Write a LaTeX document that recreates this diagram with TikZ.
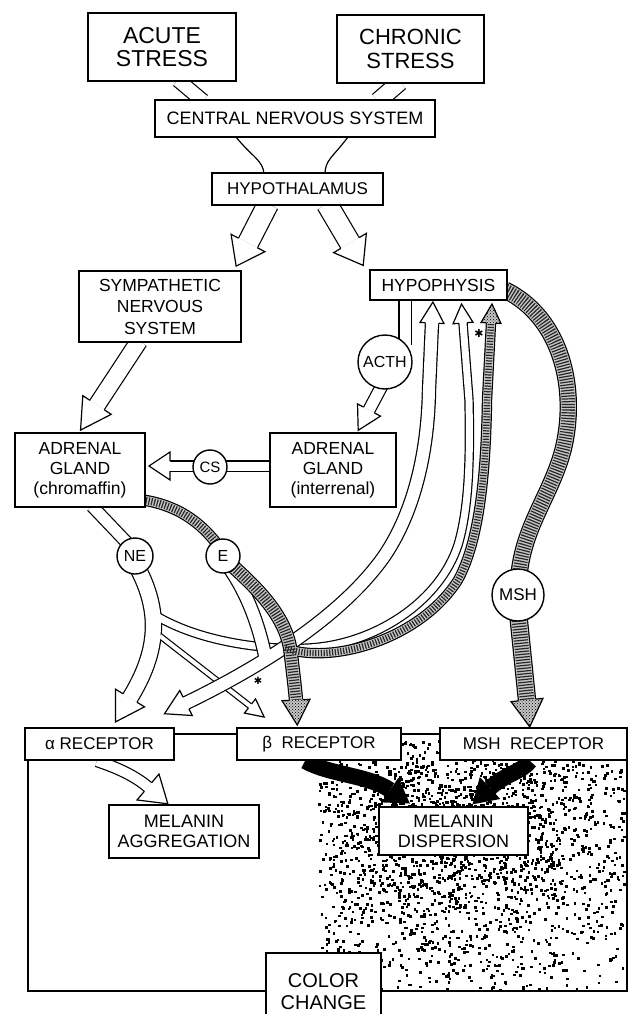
\documentclass[tikz,border=0pt]{standalone}
\usepackage{fontspec}
\setmainfont{Liberation Sans}
\newfontfamily\djv{DejaVu Sans}
\usetikzlibrary{decorations.markings,patterns}

\tikzset{
  bx/.style={draw, line width=1.5pt, fill=white, inner sep=0pt, align=center},
  cir/.style={draw, circle, line width=1.4pt, fill=white, inner sep=0pt},
  wtip/.style n args={3}{postaction={decorate,decoration={markings,mark=at position 1 with {\fill[white](0,#1)--(#3,0)--(0,-#1)--cycle;\draw[black,solid,line width=1.2pt,line join=miter](0,#2)--(0,#1)--(#3,0)--(0,-#1)--(0,-#2);}}}},
  htip/.style n args={3}{postaction={decorate,decoration={markings,mark=at position 1 with {\fill[gray!45](0,#1)--(#3,0)--(0,-#1)--cycle;\fill[pattern=crosshatch dots](0,#1)--(#3,0)--(0,-#1)--cycle;\draw[black,solid,line width=1.2pt,line join=miter](0,#2)--(0,#1)--(#3,0)--(0,-#1)--(0,-#2);}}}},
  btip/.style 2 args={postaction={decorate,decoration={markings,mark=at position 1 with {\fill[black](0,#1)--(#2,0)--(0,-#1)--cycle;}}}},
  hdash/.style={black!85, dash pattern=on 1.2pt off 1.6pt},
}

\newcommand{\wb}[3][]{\pgfmathsetmacro\wo{#2+2.4}\draw[line width=\wo pt]#3;\draw[white,line width=#2pt,#1]#3;}
\newcommand{\hb}[3][]{\pgfmathsetmacro\wo{#2+2.4}\pgfmathsetmacro\wi{#2-1.5}\draw[line width=\wo pt]#3;\draw[gray!45,line width=#2pt]#3;\draw[hdash,line width=\wi pt,#1]#3;}

\def\pNEa{(136,565) .. controls (162,612) and (158,652) .. (130,698)}
\def\pAtwo{(150,612) .. controls (200,645) and (280,652) .. (320,647) .. controls (380,640) and (440,600) .. (458,545) .. controls (470,505) and (470,450) .. (469,400) -- (463,323)}
\def\pThin{(160,636) -- (250,706)}
\def\pAone{(186,703) .. controls (250,672) and (340,620) .. (385,555) .. controls (415,510) and (428,450) .. (429,390) -- (432,323)}
\def\pEw{(228,566) .. controls (245,590) and (258,620) .. (266,660)}
\def\pEh{(228,562) .. controls (262,592) and (288,620) .. (291,655) .. controls (293,672) and (295,688) .. (296,700)}
\def\pAthree{(285,648) .. controls (330,665) and (420,640) .. (458,580) .. controls (480,540) and (486,470) .. (487,400) -- (491,323)}

\begin{document}
\begin{tikzpicture}[x=1pt,y=-1pt]
\useasboundingbox (0,0) rectangle (629,1014);
\clip (0,0) rectangle (629,1014);
\fill[white] (0,0) rectangle (629,1014);

% ---------- upper connectors ----------
\wb{13}{(178,80) -- (203,101)}
\wb{16}{(400,82) -- (378,101)}
\draw[line width=1.2pt] (236,137) .. controls (252,157) and (263,160) .. (264,174);
\draw[line width=1.2pt] (348,137) .. controls (333,157) and (325,160) .. (325,174);
\wb[wtip={19}{10.6}{26}]{20}{(268,204) -- (248,243)}
\wb[wtip={19}{10.6}{26}]{20}{(327,204) -- (350,243)}
\wb[wtip={17}{8.6}{30}]{16}{(139,341) -- (97,405)}
\wb{11}{(405,299) -- (405,345)}
\wb[wtip={13}{6.1}{23}]{11}{(386,378) -- (369,410)}
\wb[wtip={14}{5.1}{21}]{9}{(270,466) -- (170,466)}
\wb{11}{(92,506) -- (132,548)}
\hb{9}{(143,500) .. controls (175,505) and (200,520) .. (220,548)}

% MSH feedback band and MSH arrow
\hb{15}{(505,290) .. controls (562,318) and (578,390) .. (563,450) .. controls (551,495) and (524,525) .. (519,575)}
\hb[htip={16}{8.6}{27}]{16}{(518,612) -- (527,700)}

% NE group
\draw[line width=17.4pt] \pNEa;
\draw[line width=9.4pt] \pAtwo;
\draw[line width=6.4pt] \pThin;
\draw[white,line width=15pt,wtip={17}{8.1}{28}] \pNEa;
\draw[white,line width=7pt,wtip={10}{4.1}{19}] \pAtwo;
\draw[white,line width=4pt,wtip={9}{2.6}{18}] \pThin;

% E white group
\draw[line width=14.4pt] \pAone;
\draw[line width=14.4pt] \pEw;
\draw[white,line width=12pt,wtip={12}{6.6}{21}] \pAone;
\draw[white,line width=12pt] \pEw;
\path[wtip={14}{6.6}{24}] (200,696) -- (186,703);

% E hatched group
\draw[line width=14.4pt] \pEh;
\draw[line width=10.4pt] \pAthree;
\draw[gray!45,line width=12pt] \pEh;
\draw[gray!45,line width=8pt] \pAthree;
\draw[hdash,line width=10.5pt] \pEh;
\draw[hdash,line width=6.5pt,htip={10}{4.6}{19}] \pAthree;
\path[htip={14}{6.6}{25}] (295.5,690) -- (296,700);

\node (ast1) at (479,333) {\djv\fontsize{11}{11}\selectfont ✱};
\node (ast2) at (258,681) {\djv\fontsize{10}{10}\selectfont ✱};

% ---------- upper nodes ----------
\node[bx,line width=2.6pt,minimum width=148pt,minimum height=68pt,font=\fontsize{23}{23}\selectfont] (acute) at (162,47) {ACUTE\\STRESS};
\node[bx,line width=2.6pt,minimum width=147pt,minimum height=68pt,font=\fontsize{22}{24}\selectfont] (chronic) at (410.5,49) {CHRONIC\\STRESS};
\node[bx,minimum width=280pt,minimum height=37pt,font=\fontsize{18}{18}\selectfont] (cns) at (295,118.5) {CENTRAL NERVOUS SYSTEM};
\node[bx,minimum width=171pt,minimum height=32pt,font=\fontsize{17}{17}\selectfont] (hyth) at (297.5,189) {HYPOTHALAMUS};
\node[bx,minimum width=162pt,minimum height=71pt,font=\fontsize{17.5}{21.5}\selectfont] (sns) at (160,306.5) {SYMPATHETIC\\NERVOUS\\SYSTEM};
\node[bx,minimum width=137pt,minimum height=30pt,font=\fontsize{17.5}{17.5}\selectfont] (hyph) at (438.5,285) {HYPOPHYSIS};
\node[bx,minimum width=130pt,minimum height=74pt,font=\fontsize{17.5}{20}\selectfont] (chrom) at (80,470) {ADRENAL\\GLAND\\(chromaffin)};
\node[bx,minimum width=126pt,minimum height=74pt,font=\fontsize{17.5}{20}\selectfont] (interr) at (333,470) {ADRENAL\\GLAND\\(interrenal)};
\node[cir,minimum size=54pt,font=\fontsize{16}{16}\selectfont] (acth) at (385,362) {ACTH};
\node[cir,minimum size=34pt,font=\fontsize{15}{15}\selectfont] (cs) at (210,467) {CS};
\node[cir,minimum size=36pt,font=\fontsize{16}{16}\selectfont] (ne) at (135,556) {NE};
\node[cir,minimum size=34pt,font=\fontsize{16}{16}\selectfont] (e) at (223,556) {E};
\node[cir,minimum size=52pt,font=\fontsize{17}{17}\selectfont] (msh) at (518,595) {MSH};

% ---------- lower region ----------
\pgfmathsetseed{4242}
\foreach \i in {1,...,8000}{%
  \pgfmathsetmacro{\rx}{318+306*rnd}%
  \pgfmathsetmacro{\ry}{738+251*rnd}%
  \pgfmathsetmacro{\dd}{sqrt(((\rx-450)/180)^2+((\ry-830)/130)^2)}%
  \pgfmathsetmacro{\pp}{0.95*exp(-2.0*\dd)+0.03}%
  \pgfmathsetmacro{\ok}{rnd<\pp ? 1 : 0}%
  \ifdim \ok pt > 0.5pt \fill (\rx,\ry) rectangle ++(2.6,2.6); \fi
}
\draw[line width=1.5pt] (28,734) rectangle (627,991);

\wb[wtip={17}{5.6}{26}]{10}{(97,761) .. controls (118,768) and (135,776) .. (148,787)}
\draw[line width=16pt,btip={15}{24}] (305,761) .. controls (330,775) and (368,775) .. (390,790);
\draw[line width=16pt,btip={15}{24}] (530,761) .. controls (522,772) and (505,774) .. (490,788);

\node[bx,minimum width=149pt,minimum height=32pt,font=\fontsize{17}{17}\selectfont] (alpha) at (99.5,744) {α RECEPTOR};
\node[bx,minimum width=164pt,minimum height=32pt,font=\fontsize{17}{17}\selectfont] (beta) at (319,744) {β\ \ RECEPTOR};
\node[bx,minimum width=187pt,minimum height=32pt,font=\fontsize{17}{17}\selectfont] (mshr) at (533.5,744) {MSH\ \ RECEPTOR};
\node[bx,minimum width=150pt,minimum height=53pt,font=\fontsize{18}{20}\selectfont] (aggr) at (184,831.5) {MELANIN\\AGGREGATION};
\node[bx,minimum width=149pt,minimum height=48pt,font=\fontsize{18}{20}\selectfont] (disp) at (453.5,831) {MELANIN\\DISPERSION};
\node[bx,minimum width=115pt,minimum height=77pt,font=\fontsize{20}{22}\selectfont] (color) at (323.5,991.5) {COLOR\\CHANGE};
\end{tikzpicture}
\end{document}
